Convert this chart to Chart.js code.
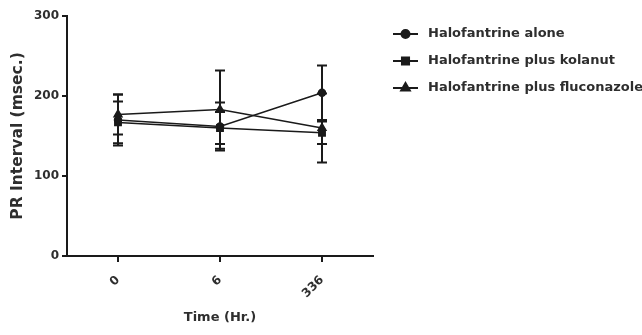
<!DOCTYPE html>
<html>
<head>
<meta charset="utf-8">
<script src="https://cdn.jsdelivr.net/npm/chart.js@4/dist/chart.umd.min.js"></script>
<style>
html,body{margin:0;padding:0;background:#fff;}
#wrap{width:642px;height:335px;}
</style>
</head>
<body>
<div id="wrap"><canvas id="c" width="642" height="335"></canvas></div>
<script>
// ---- data ----
const timeLabels = ['0', '6', '336'];
const seriesNames = ['Halofantrine alone', 'Halofantrine plus kolanut', 'Halofantrine plus fluconazole'];
const aloneMean = [170, 162, 204];
const aloneErr  = [32, 30, 34];
const kolaMean  = [167, 160, 154];
const kolaErr   = [26, 20, 14];
const flucoMean = [177, 183, 160];
const flucoErr  = [25, 49, 43];
const yTicks = [0, 100, 200, 300];
const yTitle = 'PR Interval (msec.)';
const xTitle = 'Time (Hr.)';

const INK = '#1a1a1a';
const TXT = '#2e2e2e';
const FONT = "'DejaVu Sans', Verdana, sans-serif";

const errs = [aloneErr, kolaErr, flucoErr];
const shapes = ['circle', 'rect', 'triangle'];
const radii = [3.5, 4.5, 4.5];

const errorBars = {
  id: 'errorBars',
  afterDatasetsDraw(chart) {
    const ctx = chart.ctx;
    const ys = chart.scales.y;
    ctx.save();
    ctx.strokeStyle = INK;
    ctx.lineWidth = 2;
    chart.data.datasets.forEach((ds, i) => {
      const meta = chart.getDatasetMeta(i);
      meta.data.forEach((pt, j) => {
        const m = ds.data[j];
        const e = errs[i][j];
        const x = pt.x;
        const yt = ys.getPixelForValue(m + e);
        const yb = ys.getPixelForValue(m - e);
        ctx.beginPath();
        ctx.moveTo(x, yt); ctx.lineTo(x, yb);
        ctx.moveTo(x - 5, yt); ctx.lineTo(x + 5, yt);
        ctx.moveTo(x - 5, yb); ctx.lineTo(x + 5, yb);
        ctx.stroke();
      });
    });
    ctx.restore();
  }
};

const customLegend = {
  id: 'customLegend',
  afterDraw(chart) {
    const ctx = chart.ctx;
    ctx.save();
    const x0 = 393, x1 = 418, tx = 428;
    const rowY = [34, 61, 88];
    chart.data.datasets.forEach((ds, i) => {
      const y = rowY[i];
      ctx.strokeStyle = INK;
      ctx.lineWidth = 2;
      ctx.beginPath(); ctx.moveTo(x0, y); ctx.lineTo(x1, y); ctx.stroke();
      ctx.fillStyle = INK;
      Chart.helpers.drawPoint(ctx, {pointStyle: ds.pointStyle, radius: ds.pointRadius + 0.5, borderWidth: 1}, (x0 + x1) / 2, y);
      ctx.fillStyle = TXT;
      ctx.font = 'bold 13px ' + FONT;
      ctx.textBaseline = 'middle';
      ctx.textAlign = 'left';
      ctx.fillText(ds.label, tx, y);
    });
    ctx.restore();
  }
};

const datasets = [aloneMean, kolaMean, flucoMean].map((d, i) => ({
  label: seriesNames[i],
  data: d,
  borderColor: INK,
  backgroundColor: INK,
  borderWidth: 1.5,
  pointStyle: shapes[i],
  pointRadius: radii[i],
  pointBackgroundColor: INK,
  pointBorderColor: INK,
  tension: 0,
  fill: false
}));

new Chart(document.getElementById('c'), {
  type: 'line',
  data: { labels: timeLabels, datasets },
  options: {
    responsive: false,
    animation: false,
    layout: { padding: { left: 0, right: 269, top: 16, bottom: 0 } },
    plugins: { legend: { display: false }, tooltip: { enabled: false } },
    scales: {
      x: {
        type: 'category',
        offset: true,
        grid: { display: true, drawOnChartArea: false, drawTicks: true, tickLength: 6, color: INK, lineWidth: 2 },
        border: { display: true, color: INK, width: 2 },
        ticks: {
          color: TXT, font: { family: FONT, size: 12, weight: 'bold' },
          minRotation: 45, maxRotation: 45, padding: 11
        },
        title: { display: true, text: xTitle, color: TXT, font: { family: FONT, size: 13, weight: 'bold' }, padding: { top: 0, bottom: 10 } },
        afterFit(s) { s.height = 79; }
      },
      y: {
        min: 0, max: 300,
        afterBuildTicks(s) { s.ticks = yTicks.map(v => ({ value: v })); },
        grid: { display: true, drawOnChartArea: false, drawTicks: true, tickLength: 5, color: INK, lineWidth: 2 },
        border: { display: true, color: INK, width: 2 },
        ticks: { color: TXT, font: { family: FONT, size: 12, weight: 'bold' }, padding: 3 },
        title: { display: true, text: yTitle, color: TXT, font: { family: FONT, size: 15.5, weight: 'bold' }, padding: { top: 9, bottom: 0 } },
        afterFit(s) { s.width = 67; }
      }
    }
  },
  plugins: [errorBars, customLegend]
});
</script>
</body>
</html>
